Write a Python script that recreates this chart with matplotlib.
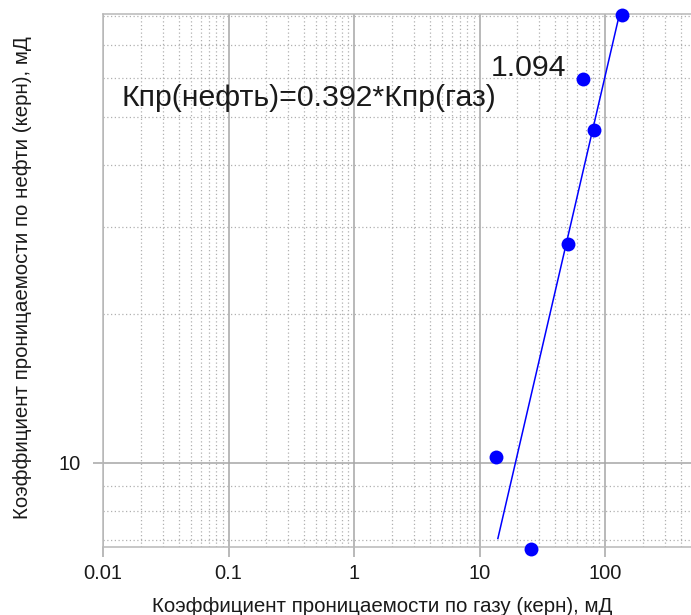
import numpy as np
import matplotlib
matplotlib.use('Agg')
import matplotlib.pyplot as plt
from matplotlib.ticker import LogLocator, NullFormatter, FuncFormatter, FixedLocator

# ---- data ----
gas_perm = [136.0, 66.4, 81.7, 50.5, 13.5, 25.6]   # x, mD
oil_perm = [80.4, 59.6, 47.1, 27.7, 10.3, 6.69]    # y, mD
fit_coef = 0.392
fit_exp = 1.094
fit_x_range = [14.0, 131.0]
x_ticks = [0.01, 0.1, 1, 10, 100]
y_ticks = [10]
x_limits = [0.01, 484]
y_limits = [6.76, 80.8]
equation_label = "Кпр(нефть)=0.392*Кпр(газ)"
exponent_label = "1.094"
x_title = "Коэффициент проницаемости по газу (керн), мД"
y_title = "Коэффициент проницаемости по нефти (керн), мД"

plt.rcParams['font.family'] = ['Liberation Sans', 'DejaVu Sans']
txt_color = '#1a1a1a'
grid_major = '#a6a6a6'
grid_minor = '#b0b0b0'
spine_c = '#b8b8b8'

W, H = 691, 615
fig = plt.figure(figsize=(W / 100, H / 100), dpi=100)
ax = fig.add_axes([103 / W, (H - 547) / H, (W - 103) / W, (547 - 14) / H])

ax.set_xscale('log')
ax.set_yscale('log')
ax.set_xlim(*x_limits)
ax.set_ylim(*y_limits)

ax.xaxis.set_major_locator(FixedLocator(x_ticks))
ax.yaxis.set_major_locator(FixedLocator(y_ticks))
ax.xaxis.set_minor_locator(LogLocator(base=10, subs=np.arange(2, 10), numticks=100))
ax.yaxis.set_minor_locator(LogLocator(base=10, subs=np.arange(2, 10), numticks=100))
fmt = FuncFormatter(lambda v, p: f"{v:g}")
ax.xaxis.set_major_formatter(fmt)
ax.yaxis.set_major_formatter(fmt)
ax.xaxis.set_minor_formatter(NullFormatter())
ax.yaxis.set_minor_formatter(NullFormatter())

ax.grid(which='major', color=grid_major, linewidth=1.1, linestyle='-')
ax.grid(which='minor', color=grid_minor, linewidth=0.9, linestyle=(0, (1, 2.0)))
ax.set_axisbelow(True)

ax.tick_params(which='major', direction='out', length=7, width=1.1, color=grid_major,
               labelsize=14.5, labelcolor=txt_color)
ax.tick_params(axis='x', which='major', pad=5)
ax.tick_params(axis='y', which='major', pad=9)
ax.tick_params(which='minor', length=0)

for s in ['left', 'bottom', 'top']:
    ax.spines[s].set_color(spine_c)
    ax.spines[s].set_linewidth(1.1)
ax.spines['right'].set_visible(False)

# fit line
xf = np.geomspace(fit_x_range[0], fit_x_range[1], 60)
yf = fit_coef * xf ** fit_exp
ax.plot(xf, yf, color='#0000ff', linewidth=1.1, zorder=3)

# points
ax.plot(gas_perm, oil_perm, linestyle='none', marker='o', markersize=10,
        color='#0000ff', markeredgewidth=0, zorder=4, clip_on=False)

ax.text(0.01416, 52.7, equation_label, fontsize=21.8, color=txt_color,
        ha='left', va='baseline', zorder=5)
ax.text(12.3, 60.5, exponent_label, fontsize=21.8, color=txt_color,
        ha='left', va='baseline', zorder=5)

fig.text(381.7 / W, (H - 611.7) / H, x_title, fontsize=14.75, color=txt_color,
         ha='center', va='baseline')
fig.text(28 / W, (H - 278) / H, y_title, fontsize=14.75, color=txt_color,
         ha='center', va='baseline', rotation=90, rotation_mode='anchor')

fig.savefig('out.png', dpi=100)
